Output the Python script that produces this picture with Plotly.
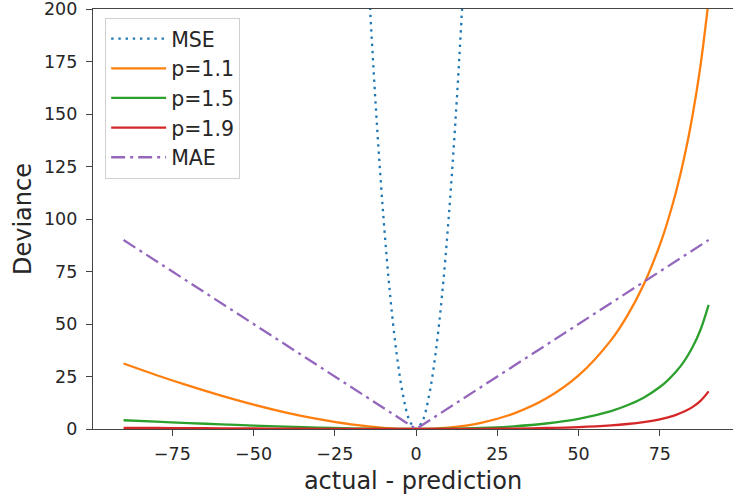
import plotly.graph_objects as go

# actual - prediction grid for Tweedie curves
x_tw = [-90, -80, -70, -60, -50, -40, -30, -20, -10, 0, 10, 20, 30, 40, 50, 60, 65, 70, 75, 77.5, 80, 82.5, 85, 87.5, 90]
dev_p11 = [31.17, 25.73, 20.62, 15.90, 11.62, 7.84, 4.67, 2.21, 0.58, 0, 0.68, 2.95, 7.33, 14.47, 25.49, 42.34, 53.98, 68.68, 87.70, 99.41, 113.07, 129.28, 148.84, 173.05, 204.18]
dev_p15 = [4.16, 3.48, 2.83, 2.22, 1.65, 1.13, 0.69, 0.33, 0.09, 0, 0.11, 0.50, 1.28, 2.62, 4.85, 8.54, 11.28, 14.94, 20.00, 23.30, 27.33, 32.35, 38.77, 47.28, 59.14]
dev_p19 = [0.56, 0.47, 0.39, 0.31, 0.24, 0.17, 0.10, 0.05, 0.01, 0, 0.02, 0.08, 0.22, 0.48, 0.93, 1.74, 2.38, 3.29, 4.64, 5.57, 6.76, 8.31, 10.42, 13.41, 17.93]

x_mse = [-18, -16, -14, -12, -10, -8, -6, -4, -2, 0, 2, 4, 6, 8, 10, 12, 14, 16, 18]
dev_mse = [324, 256, 196, 144, 100, 64, 36, 16, 4, 0, 4, 16, 36, 64, 100, 144, 196, 256, 324]

x_mae = [-90, 0, 90]
dev_mae = [90, 0, 90]

x_ticks = [-75, -50, -25, 0, 25, 50, 75]
y_ticks = [0, 25, 50, 75, 100, 125, 150, 175, 200]

FONT = "DejaVu Sans"
fig = go.Figure()
fig.add_trace(go.Scatter(x=x_mse, y=dev_mse, mode="lines", name="MSE",
                         line=dict(color="#1f77b4", width=2.3, dash="2.4px,4.8px", shape="spline")))
fig.add_trace(go.Scatter(x=x_tw, y=dev_p11, mode="lines", name="p=1.1",
                         line=dict(color="#ff7f0e", width=2.3, shape="spline")))
fig.add_trace(go.Scatter(x=x_tw, y=dev_p15, mode="lines", name="p=1.5",
                         line=dict(color="#2ca02c", width=2.3, shape="spline")))
fig.add_trace(go.Scatter(x=x_tw, y=dev_p19, mode="lines", name="p=1.9",
                         line=dict(color="#d62728", width=2.3, shape="spline")))
fig.add_trace(go.Scatter(x=x_mae, y=dev_mae, mode="lines", name="MAE",
                         line=dict(color="#9467bd", width=2.3, dash="14px,5px,3px,5px")))

axis_common = dict(showgrid=False, zeroline=False, showline=True, linecolor="#444",
                   linewidth=1.4, ticks="outside", ticklen=6, tickwidth=1.3, tickcolor="#444",
                   automargin=False, ticklabeloverflow="allow",
                   tickfont=dict(family=FONT, size=17.5, color="#262626"))

fig.update_layout(
    width=733, height=498,
    margin=dict(l=93, r=0, t=9, b=69),
    paper_bgcolor="white", plot_bgcolor="white",
    font=dict(family=FONT, color="#262626"),
    xaxis=dict(range=[-99.4, 97.5], tickvals=x_ticks, mirror=True, ticklabelstandoff=3,
               title=dict(text="actual - prediction", font=dict(family=FONT, size=24, color="#262626"), standoff=8),
               **axis_common),
    yaxis=dict(range=[0, 200], tickvals=y_ticks, ticklabelstandoff=5,
               title=dict(text="Deviance", font=dict(family=FONT, size=24, color="#262626"), standoff=5),
               **axis_common),
    legend=dict(x=0.019, y=0.979, xanchor="left", yanchor="top",
                bgcolor="rgba(255,255,255,0.8)", bordercolor="#d0d0d0", borderwidth=1,
                font=dict(family=FONT, size=20.5, color="#262626"), itemwidth=55),
    showlegend=True,
)

fig.write_html("out.html", config={"displayModeBar": False},
               post_script="document.body.style.margin='0px';document.body.style.overflow='hidden';")
